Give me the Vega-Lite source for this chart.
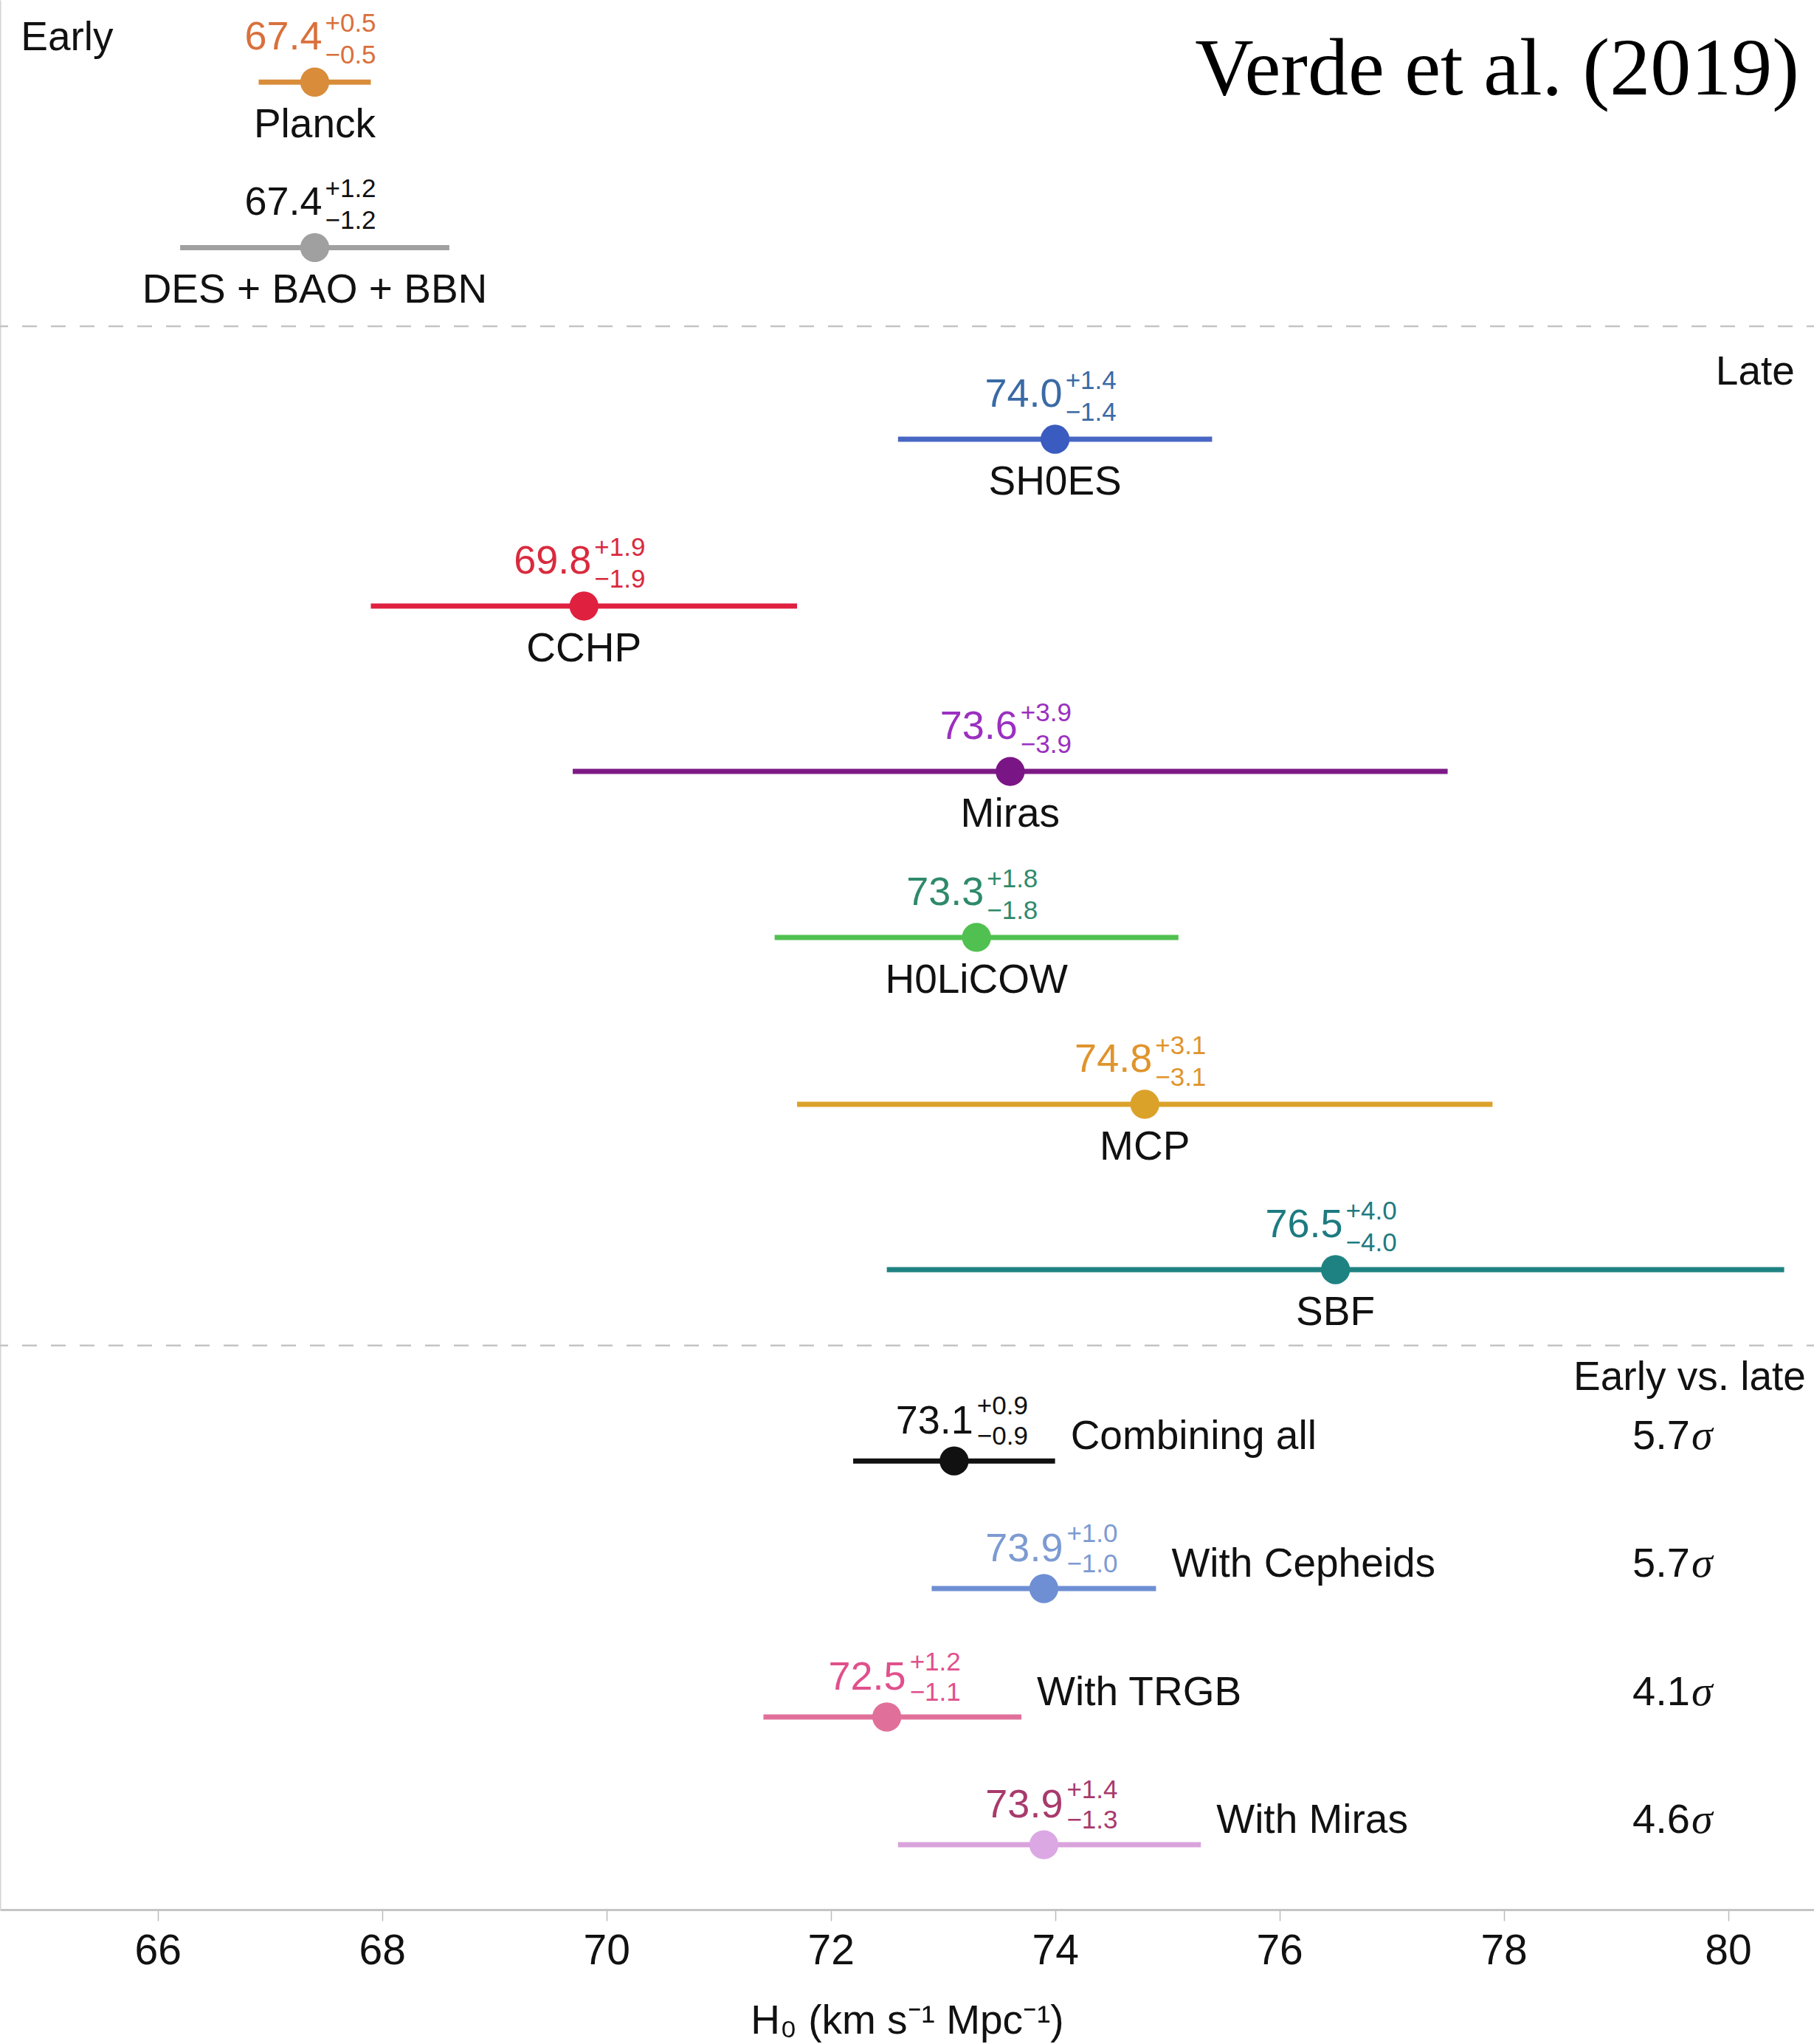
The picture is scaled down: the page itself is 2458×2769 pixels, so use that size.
{
  "$schema": "https://vega.github.io/schema/vega-lite/v6.json",
  "width": 2458,
  "height": 2587,
  "autosize": {"type": "none"},
  "padding": {"left": 0, "top": 0, "right": 0, "bottom": 182},
  "background": "white",
  "config": {
    "view": {"stroke": null},
    "font": "Liberation Sans",
    "text": {"font": "Liberation Sans", "baseline": "alphabetic"},
    "axis": {"grid": false}
  },
  "data": {
    "values": [
      {"name": "Planck", "group": "early", "h0": 67.4, "lo": 66.9, "hi": 67.9, "plus": "+0.5", "minus": "−0.5", "row": 0.495},
      {"name": "DES + BAO + BBN", "group": "early", "h0": 67.4, "lo": 66.2, "hi": 68.6, "plus": "+1.2", "minus": "−1.2", "row": 1.492},
      {"name": "SH0ES", "group": "late", "h0": 74.0, "lo": 72.6, "hi": 75.4, "plus": "+1.4", "minus": "−1.4", "row": 2.647},
      {"name": "CCHP", "group": "late", "h0": 69.8, "lo": 67.9, "hi": 71.7, "plus": "+1.9", "minus": "−1.9", "row": 3.652},
      {"name": "Miras", "group": "late", "h0": 73.6, "lo": 69.7, "hi": 77.5, "plus": "+3.9", "minus": "−3.9", "row": 4.649},
      {"name": "H0LiCOW", "group": "late", "h0": 73.3, "lo": 71.5, "hi": 75.1, "plus": "+1.8", "minus": "−1.8", "row": 5.649},
      {"name": "MCP", "group": "late", "h0": 74.8, "lo": 71.7, "hi": 77.9, "plus": "+3.1", "minus": "−3.1", "row": 6.655},
      {"name": "SBF", "group": "late", "h0": 76.5, "lo": 72.5, "hi": 80.5, "plus": "+4.0", "minus": "−4.0", "row": 7.651},
      {"name": "Combining all", "group": "combined", "h0": 73.1, "lo": 72.2, "hi": 74.0, "plus": "+0.9", "minus": "−0.9", "row": 8.804, "sigma": "5.7"},
      {"name": "With Cepheids", "group": "combined", "h0": 73.9, "lo": 72.9, "hi": 74.9, "plus": "+1.0", "minus": "−1.0", "row": 9.573, "sigma": "5.7"},
      {"name": "With TRGB", "group": "combined", "h0": 72.5, "lo": 71.4, "hi": 73.7, "plus": "+1.2", "minus": "−1.1", "row": 10.347, "sigma": "4.1"},
      {"name": "With Miras", "group": "combined", "h0": 73.9, "lo": 72.6, "hi": 75.3, "plus": "+1.4", "minus": "−1.3", "row": 11.117, "sigma": "4.6"}
    ]
  },
  "layer": [
    {
      "data": {"values": [{"sep": 1.966}, {"sep": 8.108}]},
      "mark": {"type": "rule", "strokeDash": [20, 19], "strokeDashOffset": 10, "color": "#c4c4c4", "strokeWidth": 2.5},
      "encoding": {
        "y": {"field": "sep", "type": "quantitative", "scale": {"domain": [0, 11.508], "reverse": true, "nice": false, "zero": false}, "axis": {"domain": true, "domainColor": "#d4d4d4", "domainWidth": 2, "ticks": false, "labels": false, "title": null}}
      }
    },
    {
      "mark": {"type": "rule", "strokeWidth": 7, "strokeCap": "butt"},
      "encoding": {
        "x": {"field": "lo", "type": "quantitative", "scale": {"domain": [64.594, 80.766], "nice": false, "zero": false}, "title": "H₀ (km s⁻¹ Mpc⁻¹)", "axis": {"values": [66, 68, 70, 72, 74, 76, 78, 80], "format": "d", "domainColor": "#c4c4c4", "domainWidth": 3, "tickColor": "#bbbbbb", "tickSize": 15, "tickWidth": 1.5, "labelFontSize": 57, "labelColor": "#111111", "labelPadding": 13, "titleFontSize": 55, "titleFontWeight": "normal", "titleColor": "#111111", "titlePadding": 40}},
        "x2": {"field": "hi"},
        "y": {"field": "row", "type": "quantitative", "scale": {"domain": [0, 11.508], "reverse": true, "nice": false, "zero": false}, "axis": {"domain": true, "domainColor": "#d4d4d4", "domainWidth": 2, "ticks": false, "labels": false, "title": null}},
        "color": {"field": "name", "type": "nominal", "legend": null, "scale": {"domain": ["Planck", "DES + BAO + BBN", "SH0ES", "CCHP", "Miras", "H0LiCOW", "MCP", "SBF", "Combining all", "With Cepheids", "With TRGB", "With Miras"], "range": ["#d98c3a", "#a0a0a0", "#4866c4", "#e0203f", "#7d1a86", "#50c050", "#dba22a", "#1f8282", "#111111", "#6f8fd4", "#e0709a", "#d9a3dc"]}}
      }
    },
    {
      "mark": {"type": "point", "filled": true, "size": 1550, "opacity": 1},
      "encoding": {
        "x": {"field": "h0", "type": "quantitative", "scale": {"domain": [64.594, 80.766], "nice": false, "zero": false}, "title": "H₀ (km s⁻¹ Mpc⁻¹)", "axis": {"values": [66, 68, 70, 72, 74, 76, 78, 80], "format": "d", "domainColor": "#c4c4c4", "domainWidth": 3, "tickColor": "#bbbbbb", "tickSize": 15, "tickWidth": 1.5, "labelFontSize": 57, "labelColor": "#111111", "labelPadding": 13, "titleFontSize": 55, "titleFontWeight": "normal", "titleColor": "#111111", "titlePadding": 40}},
        "y": {"field": "row", "type": "quantitative", "scale": {"domain": [0, 11.508], "reverse": true, "nice": false, "zero": false}},
        "color": {"field": "name", "type": "nominal", "legend": null, "scale": {"domain": ["Planck", "DES + BAO + BBN", "SH0ES", "CCHP", "Miras", "H0LiCOW", "MCP", "SBF", "Combining all", "With Cepheids", "With TRGB", "With Miras"], "range": ["#d98c3a", "#a0a0a0", "#3a5cc0", "#e0203f", "#7a1585", "#50c050", "#dba22a", "#1f8282", "#111111", "#6f8fd4", "#e0709a", "#dba8e4"]}}
      }
    },
    {
      "transform": [{"filter": "datum.group !== 'combined'"}],
      "mark": {"type": "text", "align": "right", "dx": 10, "dy": -44, "fontSize": 54},
      "encoding": {
        "x": {"field": "h0", "type": "quantitative", "scale": {"domain": [64.594, 80.766], "nice": false, "zero": false}, "title": "H₀ (km s⁻¹ Mpc⁻¹)"},
        "y": {"field": "row", "type": "quantitative", "scale": {"domain": [0, 11.508], "reverse": true, "nice": false, "zero": false}},
        "text": {"field": "h0", "type": "quantitative", "format": ".1f"},
        "color": {"field": "name", "type": "nominal", "legend": null, "scale": {"domain": ["Planck", "DES + BAO + BBN", "SH0ES", "CCHP", "Miras", "H0LiCOW", "MCP", "SBF"], "range": ["#d9703c", "#111111", "#3a6aa6", "#d92a3e", "#9b30c0", "#2e8a6a", "#e0942c", "#1d7b80"]}}
      }
    },
    {
      "transform": [{"filter": "datum.group !== 'combined'"}],
      "mark": {"type": "text", "align": "left", "dx": 14, "dy": -68, "fontSize": 35},
      "encoding": {
        "x": {"field": "h0", "type": "quantitative", "scale": {"domain": [64.594, 80.766], "nice": false, "zero": false}, "title": "H₀ (km s⁻¹ Mpc⁻¹)"},
        "y": {"field": "row", "type": "quantitative", "scale": {"domain": [0, 11.508], "reverse": true, "nice": false, "zero": false}},
        "text": {"field": "plus", "type": "nominal"},
        "color": {"field": "name", "type": "nominal", "legend": null, "scale": {"domain": ["Planck", "DES + BAO + BBN", "SH0ES", "CCHP", "Miras", "H0LiCOW", "MCP", "SBF"], "range": ["#d9703c", "#111111", "#3a6aa6", "#d92a3e", "#9b30c0", "#2e8a6a", "#e0942c", "#1d7b80"]}}
      }
    },
    {
      "transform": [{"filter": "datum.group !== 'combined'"}],
      "mark": {"type": "text", "align": "left", "dx": 14, "dy": -25, "fontSize": 35},
      "encoding": {
        "x": {"field": "h0", "type": "quantitative", "scale": {"domain": [64.594, 80.766], "nice": false, "zero": false}, "title": "H₀ (km s⁻¹ Mpc⁻¹)"},
        "y": {"field": "row", "type": "quantitative", "scale": {"domain": [0, 11.508], "reverse": true, "nice": false, "zero": false}},
        "text": {"field": "minus", "type": "nominal"},
        "color": {"field": "name", "type": "nominal", "legend": null, "scale": {"domain": ["Planck", "DES + BAO + BBN", "SH0ES", "CCHP", "Miras", "H0LiCOW", "MCP", "SBF"], "range": ["#d9703c", "#111111", "#3a6aa6", "#d92a3e", "#9b30c0", "#2e8a6a", "#e0942c", "#1d7b80"]}}
      }
    },
    {
      "transform": [{"filter": "datum.group !== 'combined'"}],
      "mark": {"type": "text", "align": "center", "dy": 75, "fontSize": 55, "color": "#111111"},
      "encoding": {
        "x": {"field": "h0", "type": "quantitative", "scale": {"domain": [64.594, 80.766], "nice": false, "zero": false}, "title": "H₀ (km s⁻¹ Mpc⁻¹)"},
        "y": {"field": "row", "type": "quantitative", "scale": {"domain": [0, 11.508], "reverse": true, "nice": false, "zero": false}},
        "text": {"field": "name", "type": "nominal"}
      }
    },
    {
      "transform": [{"filter": "datum.group === 'combined'"}],
      "mark": {"type": "text", "align": "right", "dx": 26, "dy": -37, "fontSize": 54},
      "encoding": {
        "x": {"field": "h0", "type": "quantitative", "scale": {"domain": [64.594, 80.766], "nice": false, "zero": false}, "title": "H₀ (km s⁻¹ Mpc⁻¹)"},
        "y": {"field": "row", "type": "quantitative", "scale": {"domain": [0, 11.508], "reverse": true, "nice": false, "zero": false}},
        "text": {"field": "h0", "type": "quantitative", "format": ".1f"},
        "color": {"field": "name", "type": "nominal", "legend": null, "scale": {"domain": ["Combining all", "With Cepheids", "With TRGB", "With Miras"], "range": ["#111111", "#7d9bd2", "#e0508c", "#a83a6c"]}}
      }
    },
    {
      "transform": [{"filter": "datum.group === 'combined'"}],
      "mark": {"type": "text", "align": "left", "dx": 31, "dy": -63, "fontSize": 35},
      "encoding": {
        "x": {"field": "h0", "type": "quantitative", "scale": {"domain": [64.594, 80.766], "nice": false, "zero": false}, "title": "H₀ (km s⁻¹ Mpc⁻¹)"},
        "y": {"field": "row", "type": "quantitative", "scale": {"domain": [0, 11.508], "reverse": true, "nice": false, "zero": false}},
        "text": {"field": "plus", "type": "nominal"},
        "color": {"field": "name", "type": "nominal", "legend": null, "scale": {"domain": ["Combining all", "With Cepheids", "With TRGB", "With Miras"], "range": ["#111111", "#7d9bd2", "#e0508c", "#a83a6c"]}}
      }
    },
    {
      "transform": [{"filter": "datum.group === 'combined'"}],
      "mark": {"type": "text", "align": "left", "dx": 31, "dy": -22, "fontSize": 35},
      "encoding": {
        "x": {"field": "h0", "type": "quantitative", "scale": {"domain": [64.594, 80.766], "nice": false, "zero": false}, "title": "H₀ (km s⁻¹ Mpc⁻¹)"},
        "y": {"field": "row", "type": "quantitative", "scale": {"domain": [0, 11.508], "reverse": true, "nice": false, "zero": false}},
        "text": {"field": "minus", "type": "nominal"},
        "color": {"field": "name", "type": "nominal", "legend": null, "scale": {"domain": ["Combining all", "With Cepheids", "With TRGB", "With Miras"], "range": ["#111111", "#7d9bd2", "#e0508c", "#a83a6c"]}}
      }
    },
    {
      "transform": [{"filter": "datum.group === 'combined'"}],
      "mark": {"type": "text", "align": "left", "dx": 21, "dy": -16, "fontSize": 55, "color": "#111111"},
      "encoding": {
        "x": {"field": "hi", "type": "quantitative", "scale": {"domain": [64.594, 80.766], "nice": false, "zero": false}, "title": "H₀ (km s⁻¹ Mpc⁻¹)"},
        "y": {"field": "row", "type": "quantitative", "scale": {"domain": [0, 11.508], "reverse": true, "nice": false, "zero": false}},
        "text": {"field": "name", "type": "nominal"}
      }
    },
    {
      "transform": [{"filter": "datum.group === 'combined'"}],
      "mark": {"type": "text", "align": "right", "dy": -16, "fontSize": 56, "color": "#111111"},
      "encoding": {
        "x": {"datum": 79.66, "type": "quantitative"},
        "y": {"field": "row", "type": "quantitative", "scale": {"domain": [0, 11.508], "reverse": true, "nice": false, "zero": false}},
        "text": {"field": "sigma", "type": "nominal"}
      }
    },
    {
      "transform": [{"filter": "datum.group === 'combined'"}],
      "mark": {"type": "text", "align": "left", "dx": 2, "dy": -16, "fontSize": 58, "font": "Liberation Serif", "fontStyle": "italic", "color": "#111111"},
      "encoding": {
        "x": {"datum": 79.66, "type": "quantitative"},
        "y": {"field": "row", "type": "quantitative", "scale": {"domain": [0, 11.508], "reverse": true, "nice": false, "zero": false}},
        "text": {"value": "σ"}
      }
    },
    {
      "data": {"values": [{}]},
      "mark": {"type": "text", "align": "left", "fontSize": 55, "color": "#111111"},
      "encoding": {
        "x": {"datum": 64.78, "type": "quantitative"},
        "y": {"datum": 0.303, "type": "quantitative"},
        "text": {"value": "Early"}
      }
    },
    {
      "data": {"values": [{}]},
      "mark": {"type": "text", "align": "right", "fontSize": 55, "color": "#111111"},
      "encoding": {
        "x": {"datum": 80.594, "type": "quantitative"},
        "y": {"datum": 2.318, "type": "quantitative"},
        "text": {"value": "Late"}
      }
    },
    {
      "data": {"values": [{}]},
      "mark": {"type": "text", "align": "right", "fontSize": 55, "color": "#111111"},
      "encoding": {
        "x": {"datum": 80.693, "type": "quantitative"},
        "y": {"datum": 8.376, "type": "quantitative"},
        "text": {"value": "Early vs. late"}
      }
    },
    {
      "data": {"values": [{}]},
      "mark": {"type": "text", "align": "right", "fontSize": 110, "font": "Liberation Serif", "color": "#000000"},
      "encoding": {
        "x": {"datum": 80.633, "type": "quantitative"},
        "y": {"datum": 0.569, "type": "quantitative"},
        "text": {"value": "Verde et al. (2019)"}
      }
    }
  ],
  "resolve": {"scale": {"color": "independent"}}
}
